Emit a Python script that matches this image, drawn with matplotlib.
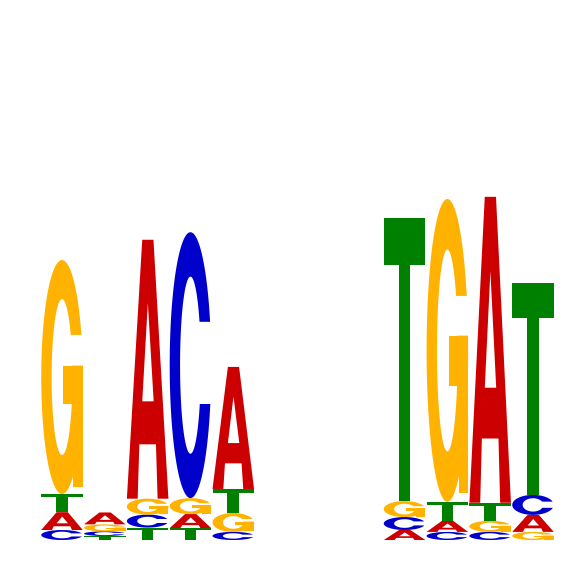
import matplotlib
matplotlib.use("Agg")
import numpy as np
import matplotlib.pyplot as plt
from matplotlib.path import Path
from matplotlib.patches import PathPatch

positions = list(range(1, 13))
bits_A = [0.066, 0.044, 0.959, 0.052, 0.452, 0, 0, 0, 0.037, 0.041, 1.133, 0.063]
bits_C = [0.037, 0.017, 0.048, 0.985, 0.030, 0, 0, 0, 0.048, 0.030, 0.030, 0.074]
bits_G = [0.867, 0.026, 0.059, 0.059, 0.070, 0, 0, 0, 0.059, 1.122, 0.041, 0.030]
bits_T = [0.067, 0.015, 0.046, 0.044, 0.089, 0, 0, 0, 1.048, 0.070, 0.067, 0.785]

colors = {"A": "#CC0000", "C": "#0000CC", "G": "#FFB300", "T": "#008000"}

IX, IY = 0.25, 0.333  # inner ellipse semi-axes of the C / G ring


def ring_open(yu, yl, n=120):
    au_o = np.arcsin((yu - 0.5) / 0.5)
    al_o = np.arcsin((yl - 0.5) / 0.5)
    au_i = np.arcsin((yu - 0.5) / IY)
    al_i = np.arcsin((yl - 0.5) / IY)
    to = np.linspace(au_o, 2 * np.pi + al_o, n)
    ti = np.linspace(2 * np.pi + al_i, au_i, n)
    outer = np.column_stack([0.5 + 0.5 * np.cos(to), 0.5 + 0.5 * np.sin(to)])
    inner = np.column_stack([0.5 + IX * np.cos(ti), 0.5 + IY * np.sin(ti)])
    return [np.vstack([outer, inner])]


def rect(x0, y0, x1, y1):
    return np.array([[x0, y0], [x1, y0], [x1, y1], [x0, y1]])


SHAPES = {
    "A": [np.array([[0, 0], [0.37, 1], [0.64, 1], [1, 0], [0.74, 0], [0.70, 0.21],
                    [0.30, 0.21], [0.26, 0]]),
          np.array([[0.37, 0.376], [0.645, 0.376], [0.505, 0.757]])],
    "C": ring_open(0.663, 0.354),
    "G": ring_open(0.68, 0.549),
    "T": [np.array([[0, 1], [1, 1], [1, 0.835], [0.64, 0.835], [0.64, 0],
                    [0.36, 0], [0.36, 0.835], [0, 0.835]])],
}
EXTRA = {"G": [[rect(0.53, 0.384, 1.0, 0.549)], [rect(0.77, 0.03, 1.0, 0.40)]]}

fig = plt.figure(figsize=(5.66, 5.66), dpi=100)
ax = fig.add_axes([40.6 / 566, 26 / 566, 513.8 / 566, 540 / 566])
ax.set_xlim(0.5, 12.5)
ax.set_ylim(0, 2)
ax.axis("off")

width = 0.97


def add_shape(polys, letter, x0, y0, w, h):
    verts, codes = [], []
    for poly in polys:
        pts = np.column_stack([x0 + w * poly[:, 0], y0 + h * poly[:, 1]])
        verts.extend(pts.tolist())
        verts.append(pts[0].tolist())
        codes.extend([Path.MOVETO] + [Path.LINETO] * (len(pts) - 1) + [Path.CLOSEPOLY])
    ax.add_patch(PathPatch(Path(verts, codes), facecolor=colors[letter],
                           edgecolor="none", lw=0))


def draw_letter(letter, x0, y0, w, h):
    add_shape(SHAPES[letter], letter, x0, y0, w, h)
    for extra in EXTRA.get(letter, []):
        add_shape(extra, letter, x0, y0, w, h)


for i, p in enumerate(positions):
    vals = {"A": bits_A[i], "C": bits_C[i], "G": bits_G[i], "T": bits_T[i]}
    y = 0.0
    for letter, v in sorted(vals.items(), key=lambda kv: kv[1]):
        if v <= 0:
            continue
        draw_letter(letter, p - width / 2, y, width, v)
        y += v

fig.savefig("out.png", dpi=100)
